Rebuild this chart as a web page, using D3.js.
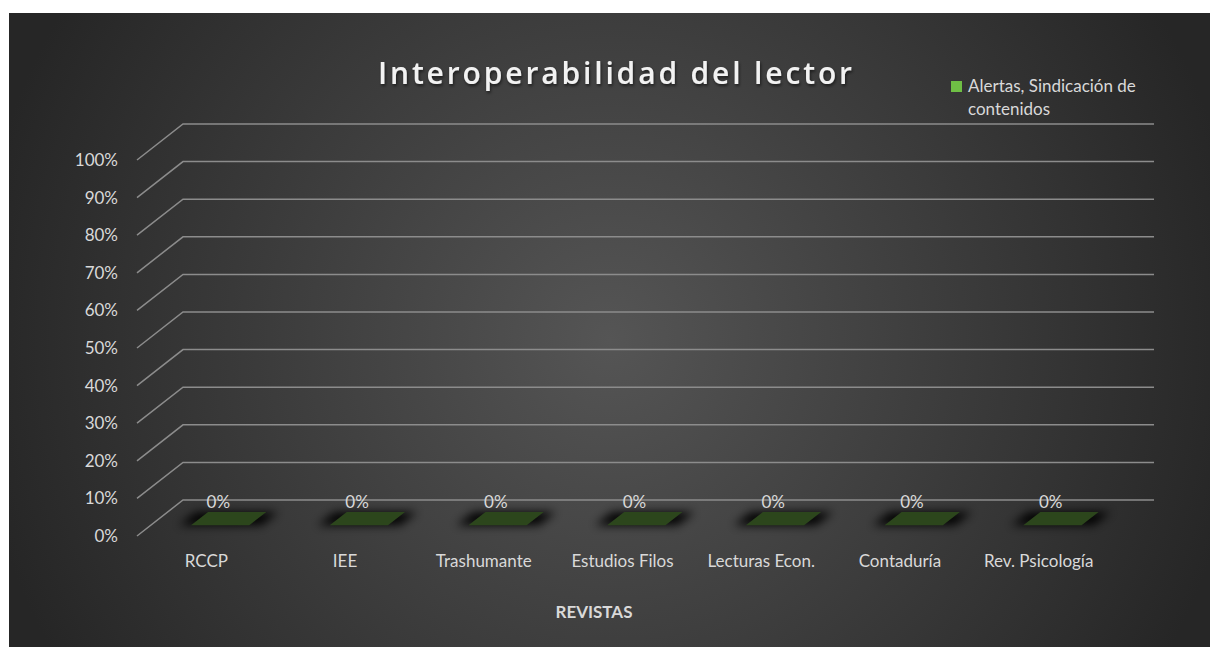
<!DOCTYPE html>
<html>
<head>
<meta charset="utf-8">
<script src="https://cdn.jsdelivr.net/npm/d3@7"></script>
<style>
  body { margin: 0; background: #fff; }
  svg { display: block; }
</style>
</head>
<body>
<div id="chart"></div>
<script>
// datos
const revistas = ["RCCP", "IEE", "Trashumante", "Estudios Filos", "Lecturas Econ.", "Contaduría", "Rev. Psicología"];
const alertas = [0, 0, 0, 0, 0, 0, 0];
const yTicks = [0, 0.1, 0.2, 0.3, 0.4, 0.5, 0.6, 0.7, 0.8, 0.9, 1];
const serieName = ["Alertas, Sindicación de", "contenidos"];
const titulo = "Interoperabilidad del lector";

const width = 1210;
const height = 647;
const depth = { dx: 46, dy: -36 };   // fondo en perspectiva
const font = "Lato, 'Open Sans', sans-serif";
const textColor = "#d9d9d9";

const svg = d3.select("#chart").append("svg")
    .attr("width", width)
    .attr("height", height);

const defs = svg.append("defs");
const grad = defs.append("radialGradient")
    .attr("id", "bg")
    .attr("gradientUnits", "userSpaceOnUse")
    .attr("cx", 610).attr("cy", 340).attr("r", 640);
grad.append("stop").attr("offset", "0%").attr("stop-color", "#555555");
grad.append("stop").attr("offset", "100%").attr("stop-color", "#262626");

const blur = defs.append("filter").attr("id", "sombra")
    .attr("x", "-50%").attr("y", "-100%").attr("width", "200%").attr("height", "300%");
blur.append("feGaussianBlur").attr("stdDeviation", 5);

const tshadow = defs.append("filter").attr("id", "tshadow");
tshadow.append("feDropShadow").attr("dx", 1).attr("dy", 2).attr("stdDeviation", 1.5)
    .attr("flood-color", "#000").attr("flood-opacity", 0.55);

svg.append("rect")
    .attr("x", 9).attr("y", 13)
    .attr("width", width - 9).attr("height", height - 13)
    .attr("fill", "url(#bg)");

// escalas (cara frontal)
const x = d3.scaleBand().domain(revistas).range([137, 1108]);
const y = d3.scaleLinear().domain([0, 1]).range([536, 160]);

// rejilla
const grid = svg.append("g").attr("id", "grid");
grid.selectAll("path").data(yTicks).enter().append("path")
    .attr("d", t => {
        const x0 = x.range()[0], y0 = y(t);
        return `M${x0},${y0} L${x0 + depth.dx},${y0 + depth.dy} L${x.range()[1] + depth.dx},${y0 + depth.dy}`;
    })
    .attr("fill", "none")
    .attr("stroke", "#8c8c8c")
    .attr("stroke-width", 1.5);

// etiquetas eje y
svg.append("g").selectAll("text").data(yTicks).enter().append("text")
    .attr("x", 118)
    .attr("y", t => y(t) + 6)
    .attr("text-anchor", "end")
    .attr("font-family", font)
    .attr("font-size", 17)
    .attr("fill", textColor)
    .text(d3.format(".0%"));

// barras planas (valor 0) sobre el suelo
const barW = x.bandwidth() * 0.42;
const d0 = 0.3, d1 = 0.67;
function barPoly(c, v, grow) {
    const cx = x(c) + x.bandwidth() / 2;
    const yb = y(v);
    const l = cx - barW / 2 - grow, r = cx + barW / 2 + grow;
    const ax = depth.dx * d0, ay = depth.dy * d0;
    const bx = depth.dx * d1, by = depth.dy * d1;
    return [[l + ax, yb + ay], [r + ax, yb + ay], [r + bx, yb + by], [l + bx, yb + by]]
        .map(p => p.join(",")).join(" ");
}

const bars = svg.append("g").attr("id", "bars");
bars.selectAll(".sombra").data(revistas).enter().append("polygon")
    .attr("class", "sombra")
    .attr("points", (c, i) => barPoly(c, alertas[i], 12))
    .attr("fill", "#000")
    .attr("opacity", 0.95)
    .attr("filter", "url(#sombra)");
bars.selectAll(".bar").data(revistas).enter().append("polygon")
    .attr("class", "bar")
    .attr("points", (c, i) => barPoly(c, alertas[i], 0))
    .attr("fill", "#2c461c");

// etiquetas de datos
svg.append("g").selectAll("text").data(revistas).enter().append("text")
    .attr("x", c => x(c) + x.bandwidth() / 2 + 12)
    .attr("y", (c, i) => y(alertas[i]) - 28)
    .attr("text-anchor", "middle")
    .attr("font-family", font)
    .attr("font-size", 17)
    .attr("fill", textColor)
    .text((c, i) => d3.format(".0%")(alertas[i]));

// etiquetas eje x
svg.append("g").selectAll("text").data(revistas).enter().append("text")
    .attr("x", c => x(c) + x.bandwidth() / 2)
    .attr("y", 567)
    .attr("text-anchor", "middle")
    .attr("font-family", font)
    .attr("font-size", 17)
    .attr("fill", textColor)
    .text(c => c);

svg.append("text")
    .attr("x", 594).attr("y", 618)
    .attr("text-anchor", "middle")
    .attr("font-family", font)
    .attr("font-weight", "bold")
    .attr("font-size", 17)
    .attr("fill", textColor)
    .text("REVISTAS");

// titulo
svg.append("text")
    .attr("x", 378).attr("y", 84)
    .attr("textLength", 474)
    .attr("lengthAdjust", "spacing")
    .attr("font-family", "'Open Sans', Lato, sans-serif")
    .attr("font-weight", 600)
    .attr("font-size", 30)
    .attr("fill", "#f2f2f2")
    .attr("filter", "url(#tshadow)")
    .text(titulo);

// leyenda
const legend = svg.append("g").attr("transform", "translate(951,81)");
legend.append("rect").attr("width", 11).attr("height", 11).attr("fill", "#6fbf45");
legend.selectAll("text").data(serieName).enter().append("text")
    .attr("x", 17)
    .attr("y", (d, i) => 11 + i * 23)
    .attr("font-family", font)
    .attr("font-size", 17)
    .attr("fill", textColor)
    .text(d => d);
</script>
</body>
</html>
